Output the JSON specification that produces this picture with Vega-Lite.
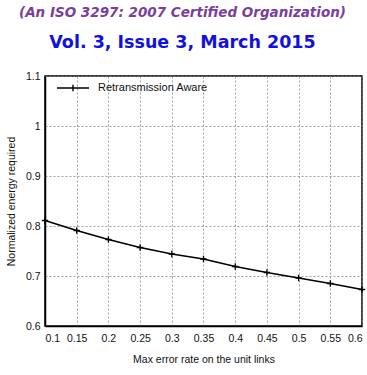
{
  "$schema": "https://vega.github.io/schema/vega-lite/v6.json",
  "width": 317,
  "height": 250,
  "autosize": {"type": "none"},
  "padding": {"left": 45, "top": 76, "right": 5, "bottom": 49},
  "background": "white",
  "title": {
    "text": "(An ISO 3297: 2007 Certified Organization)",
    "subtitle": "Vol. 3, Issue 3, March 2015",
    "anchor": "middle",
    "dx": -21,
    "offset": 20,
    "font": "DejaVu Sans",
    "fontSize": 13.5,
    "fontStyle": "italic",
    "fontWeight": "bold",
    "color": "#7a3e9d",
    "subtitleFont": "DejaVu Sans",
    "subtitleFontSize": 17.5,
    "subtitleFontWeight": "bold",
    "subtitleColor": "#1010e0",
    "subtitlePadding": 14
  },
  "data": {
    "values": [
      {"rate": 0.1, "energy": 0.811, "series": "Retransmission Aware"},
      {"rate": 0.15, "energy": 0.791, "series": "Retransmission Aware"},
      {"rate": 0.2, "energy": 0.773, "series": "Retransmission Aware"},
      {"rate": 0.25, "energy": 0.757, "series": "Retransmission Aware"},
      {"rate": 0.3, "energy": 0.744, "series": "Retransmission Aware"},
      {"rate": 0.35, "energy": 0.734, "series": "Retransmission Aware"},
      {"rate": 0.4, "energy": 0.719, "series": "Retransmission Aware"},
      {"rate": 0.45, "energy": 0.707, "series": "Retransmission Aware"},
      {"rate": 0.5, "energy": 0.696, "series": "Retransmission Aware"},
      {"rate": 0.55, "energy": 0.685, "series": "Retransmission Aware"},
      {"rate": 0.6, "energy": 0.673, "series": "Retransmission Aware"}
    ]
  },
  "encoding": {
    "x": {
      "field": "rate",
      "type": "quantitative",
      "scale": {"domain": [0.1, 0.6], "nice": false, "zero": false},
      "axis": {
        "title": "Max error rate on the unit links",
        "values": [0.1, 0.15, 0.2, 0.25, 0.3, 0.35, 0.4, 0.45, 0.5, 0.55, 0.6],
        "format": "~g",
        "labelPadding": 7,
        "titlePadding": 11
      }
    },
    "y": {
      "field": "energy",
      "type": "quantitative",
      "scale": {"domain": [0.6, 1.1], "nice": false, "zero": false},
      "axis": {
        "title": "Normalized energy required",
        "values": [0.6, 0.7, 0.8, 0.9, 1, 1.1],
        "format": "~g",
        "titlePadding": 9
      }
    }
  },
  "layer": [
    {
      "mark": {"type": "line", "strokeWidth": 1.6},
      "encoding": {
        "stroke": {
          "field": "series",
          "type": "nominal",
          "scale": {"domain": ["Retransmission Aware"], "range": ["black"]},
          "legend": {
            "title": null,
            "orient": "none",
            "legendX": 11,
            "legendY": -5,
            "symbolType": "M-1,0H1M0,-0.2V0.2",
            "symbolSize": 1024,
            "symbolStrokeWidth": 1.4,
            "symbolStrokeColor": "black",
            "symbolFillColor": "transparent",
            "labelFont": "Liberation Sans",
            "labelFontSize": 11,
            "labelColor": "#111",
            "labelOffset": 8
          }
        }
      }
    },
    {
      "mark": {
        "type": "point",
        "shape": "M-1,0H1M0,-1V1",
        "size": 40,
        "filled": false,
        "stroke": "black",
        "strokeWidth": 1.3,
        "opacity": 1
      }
    }
  ],
  "config": {
    "view": {"stroke": "black", "strokeWidth": 1.5},
    "axis": {
      "labelFont": "Liberation Sans",
      "labelFontSize": 10.5,
      "labelColor": "#111",
      "titleFont": "Liberation Sans",
      "titleFontSize": 10.5,
      "titleFontWeight": "normal",
      "titleColor": "#111",
      "domainColor": "black",
      "domainWidth": 1.5,
      "ticks": false,
      "grid": true,
      "gridColor": "#888",
      "gridDash": [2, 2],
      "gridWidth": 0.8,
      "labelPadding": 5
    }
  }
}
